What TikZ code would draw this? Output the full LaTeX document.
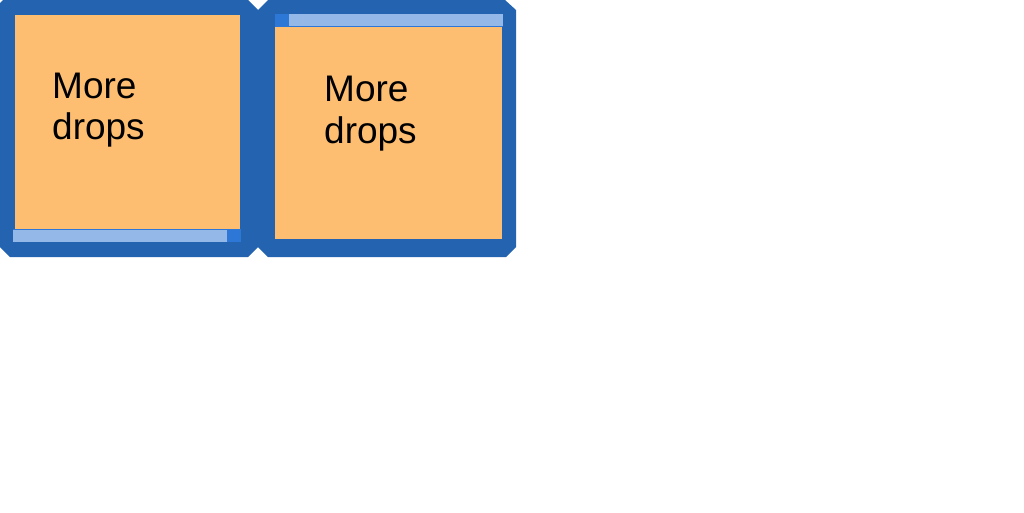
\documentclass[tikz,border=0pt]{standalone}
\usepackage{fontspec}
\setmainfont{Liberation Sans}
\usepackage{xcolor}
\usepackage{tikz}
\usetikzlibrary{positioning}
\definecolor{framecol}{RGB}{36,99,175}
\definecolor{papercol}{RGB}{254,190,114}
\definecolor{lightbar}{RGB}{148,184,232}
\definecolor{midbar}{RGB}{45,120,215}
\tikzstyle{frame}    = [fill=framecol, draw=none]
\tikzstyle{paper}    = [fill=papercol, draw=none]
\tikzstyle{barlight} = [fill=lightbar, draw=none]
\tikzstyle{barmid}   = [fill=midbar, draw=none]
\tikzstyle{label}    = [anchor=base west, inner sep=0pt, align=left, font=\fontsize{37}{41.5}\selectfont]

\begin{document}
\begin{tikzpicture}[x=1pt, y=-1pt]
    \useasboundingbox (0,0) rectangle (1024,512);

    % left panel
    \fill[frame] (3,0) -- (248,0) -- (258,10) -- (258,247) -- (248,257) -- (10,257) -- (0,247) -- (0,3) -- cycle;
    \fill[paper] (15,15) rectangle (240,229);
    \fill[barlight] (13,229) rectangle (227,242);
    \fill[barmid] (227,229) rectangle (241,242);
    \draw[midbar] (13,229.5) -- (241,229.5);
    \node (left) [label] at (52,139.5) {More\\drops};

    % right panel
    \fill[frame] (268,0) -- (505,0) -- (516,10) -- (516,247) -- (506,257) -- (268,257) -- (258,247) -- (258,10) -- cycle;
    \fill[paper] (275,27) rectangle (502,239);
    \fill[barmid] (275,14) rectangle (289,26);
    \fill[barlight] (289,14) rectangle (503,26);
    \draw[midbar] (275,26.5) -- (503,26.5);
    \node (right) [label] at (324,143) {More\\drops};
\end{tikzpicture}
\end{document}
